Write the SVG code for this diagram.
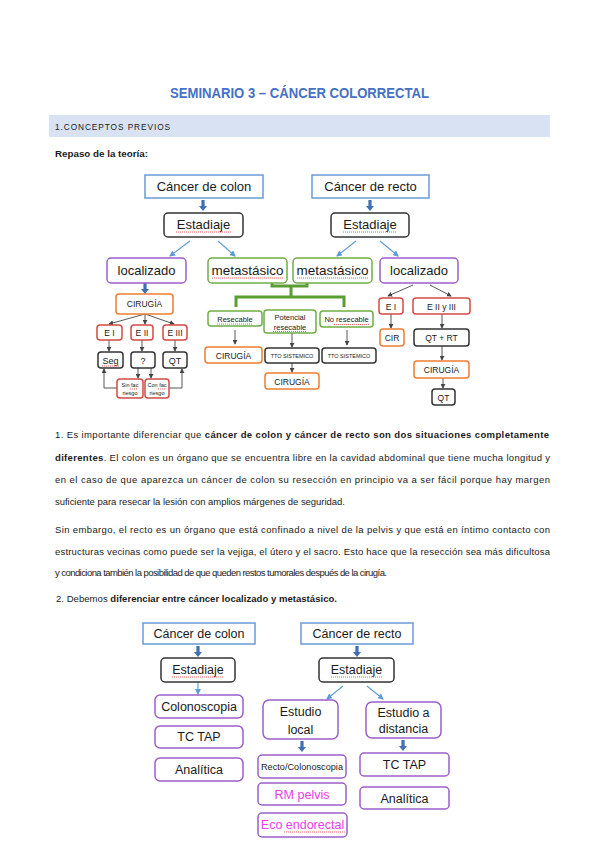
<svg xmlns="http://www.w3.org/2000/svg" width="599" height="848" viewBox="0 0 599 848">
<defs>
<marker id="ak" viewBox="0 0 6 6" refX="5" refY="3" markerWidth="5" markerHeight="5" orient="auto" markerUnits="userSpaceOnUse"><path d="M0,0 L6,3 L0,6 z" fill="#444"/></marker>
<marker id="ab" viewBox="0 0 6 6" refX="5" refY="3" markerWidth="6" markerHeight="6" orient="auto" markerUnits="userSpaceOnUse"><path d="M0,0 L6,3 L0,6 z" fill="#5b9bd5"/></marker>
<path id="thick" d="M-1.6,0 H1.6 V6 H4 L0,11 L-4,6 H-1.6 z" fill="#3f6fb5"/>
<style>
text{font-family:"Liberation Sans",Arial,sans-serif;fill:#1a1a1a}
.c{text-anchor:middle}
.b{fill:#fff;stroke:#6a9bd8;stroke-width:1.5}
.k{fill:#fff;stroke:#333;stroke-width:1.5}
.p{fill:#fff;stroke:#9b5fc9;stroke-width:1.5}
.g{fill:#fff;stroke:#70ad47;stroke-width:1.5}
.o{fill:#fff;stroke:#ed7d31;stroke-width:1.5}
.r{fill:#fff;stroke:#d24b45;stroke-width:1.5}
.t13{font-size:13px}
.t12{font-size:12.5px}
.t9{font-size:9px}
.t8{font-size:8.5px}
.t7{font-size:7.5px}
.t5{font-size:5.5px}
.pk{fill:#e83ee8}
.lk{stroke:#444;stroke-width:0.9;fill:none;marker-end:url(#ak)}
.lb{stroke:#5b9bd5;stroke-width:1.1;fill:none;marker-end:url(#ab)}
.sq{stroke:#e23b3b;stroke-width:0.8;stroke-dasharray:1 1;fill:none}
.body{font-size:9.5px}
.bd{font-weight:bold}
</style>
</defs>
<g id="page-text">
<text x="299.5" y="98" class="c bd" style="font-size:15px;fill:#4472c4" textLength="259" lengthAdjust="spacingAndGlyphs">SEMINARIO 3 – CÁNCER COLORRECTAL</text>
<rect x="49" y="115" width="501" height="22" fill="#d9e2f3"/>
<text x="55" y="130" style="font-size:9px;letter-spacing:1px" textLength="116" lengthAdjust="spacingAndGlyphs">1.CONCEPTOS PREVIOS</text>
<text x="55" y="157" class="bd" style="font-size:9px" textLength="93" lengthAdjust="spacingAndGlyphs">Repaso de la teoría:</text>
<text x="55" y="438" class="body" textLength="494" lengthAdjust="spacing">1. Es importante diferenciar que <tspan class="bd">cáncer de colon y cáncer de recto son dos situaciones completamente</tspan></text>
<text x="55" y="461" class="body" textLength="495" lengthAdjust="spacing"><tspan class="bd">diferentes</tspan>. El colon es un órgano que se encuentra libre en la cavidad abdominal que tiene mucha longitud y</text>
<text x="55" y="483" class="body" textLength="495" lengthAdjust="spacing">en el caso de que aparezca un cáncer de colon su resección en principio va a ser fácil porque hay margen</text>
<text x="55" y="505" class="body" textLength="290" lengthAdjust="spacing">suficiente para resecar la lesión con amplios márgenes de seguridad.</text>
<text x="55" y="533" class="body" textLength="495" lengthAdjust="spacing">Sin embargo, el recto es un órgano que está confinado a nivel de la pelvis y que está en íntimo contacto con</text>
<text x="55" y="555" class="body" textLength="495" lengthAdjust="spacing">estructuras vecinas como puede ser la vejiga, el útero y el sacro. Esto hace que la resección sea más dificultosa</text>
<text x="55" y="576" class="body" textLength="332" lengthAdjust="spacing">y condiciona también la posibilidad de que queden restos tumorales después de la cirugía.</text>
<text x="56" y="602" class="body" textLength="281" lengthAdjust="spacing">2. Debemos <tspan class="bd">diferenciar entre cáncer localizado y metastásico.</tspan></text>
</g>
<g id="connectors">
<use href="#thick" x="203" y="200"/>
<use href="#thick" x="370" y="200"/>
<path class="lb" d="M190,241 L170,256"/>
<path class="lb" d="M218,241 L235,256"/>
<path class="lb" d="M356,241 L337,256"/>
<path class="lb" d="M380,241 L398,256"/>
<path d="M272,283 V286 H307 V283 M291,286 V297 M236,307 V297 H344 V307" stroke="#5a9e32" stroke-width="3" fill="none"/>
<path class="lk" d="M235,330 V344"/>
<path class="lk" d="M292,333 V347"/>
<path class="lk" d="M347,330 V345"/>
<path class="lk" d="M292,363 V372"/>
<use href="#thick" x="145" y="283"/>
<path class="lk" d="M145,314 L109,324"/>
<path class="lk" d="M145,314 V324"/>
<path class="lk" d="M145,314 L174,324"/>
<path class="lk" d="M109,340 V351"/>
<path class="lk" d="M142,340 V351"/>
<path class="lk" d="M175,340 V351"/>
<path class="lk" d="M138,368 V378"/>
<path class="lk" d="M151,368 V378"/>
<path class="lk" d="M117,388 H104 V369"/>
<path class="lk" d="M169,388 H182 V369"/>
<path class="lk" d="M413,285 L388,296"/>
<path class="lk" d="M430,285 L451,296"/>
<path class="lk" d="M391,314 V328"/>
<path class="lk" d="M442,314 V328"/>
<path class="lk" d="M442,346 V360"/>
<path class="lk" d="M443,378 V388"/>
<use href="#thick" x="198" y="646"/>
<path class="lb" d="M198,682 V694"/>
<use href="#thick" x="357" y="646"/>
<path class="lb" d="M343,686 L327,699"/>
<path class="lb" d="M367,686 L383,699"/>
<use href="#thick" x="302" y="741"/>
<use href="#thick" x="403" y="740"/>
</g>
<g id="d1-colon"><rect class="b" x="145" y="175" width="118" height="23"/><text x="204" y="191" class="c t13">Cáncer de colon</text></g>
<g id="d1-recto"><rect class="b" x="312" y="175" width="117" height="23"/><text x="370.5" y="191" class="c t13">Cáncer de recto</text></g>
<g id="d1-est1"><rect class="k" x="164" y="213" width="79" height="24" rx="4"/><text x="203.5" y="229" class="c t13">Estadiaje</text><path class="sq" d="M176,232 H231"/></g>
<g id="d1-est2"><rect class="k" x="331" y="213" width="78" height="24" rx="4"/><text x="370" y="229" class="c t13">Estadiaje</text><path class="sq" d="M343,232 H397"/></g>
<g id="d1-loc1"><rect class="p" x="107" y="258" width="79" height="25" rx="4"/><text x="146.5" y="275" class="c t13">localizado</text></g>
<g id="d1-met1"><rect class="g" x="208" y="258" width="79" height="25" rx="4"/><text x="247.5" y="275" class="c t13" textLength="72" lengthAdjust="spacingAndGlyphs">metastásico</text><path class="sq" d="M212,278 H283"/></g>
<g id="d1-met2"><rect class="g" x="293" y="258" width="79" height="25" rx="4"/><text x="332.5" y="275" class="c t13" textLength="72" lengthAdjust="spacingAndGlyphs">metastásico</text><path class="sq" d="M297,278 H368"/></g>
<g id="d1-loc2"><rect class="p" x="380" y="258" width="78" height="25" rx="4"/><text x="419" y="275" class="c t13">localizado</text></g>
<g id="d1-resec"><rect class="g" x="208" y="311" width="54" height="15" rx="3"/><text x="235" y="321.5" class="c t7">Resecable</text><path class="sq" d="M217,324 H253"/></g>
<g id="d1-pot"><rect class="g" x="264" y="310" width="52" height="23" rx="3"/><text x="290" y="319.5" class="c t7">Potencial</text><text x="290" y="329.5" class="c t7">resecable</text><path class="sq" d="M273,331.5 H307"/></g>
<g id="d1-nores"><rect class="g" x="320" y="311" width="53" height="16" rx="3"/><text x="346.5" y="322" class="c t7">No resecable</text><path class="sq" d="M334,324.5 H370"/></g>
<g id="d1-cir-a"><rect class="o" x="205" y="347" width="57" height="16" rx="3"/><text x="233.5" y="358.5" class="c t8">CIRUGÍA</text></g>
<g id="d1-tto1"><rect class="k" x="265" y="348" width="54" height="15" rx="3"/><text x="292" y="358" class="c t5">TTO SISTEMICO</text></g>
<g id="d1-tto2"><rect class="k" x="322" y="348" width="54" height="15" rx="3"/><text x="349" y="358" class="c t5">TTO SISTEMICO</text></g>
<g id="d1-cir-b"><rect class="o" x="265" y="373" width="54" height="16" rx="3"/><text x="292" y="384.5" class="c t8">CIRUGÍA</text></g>
<g id="d1-cir-l"><rect class="o" x="116" y="294" width="57" height="20" rx="3"/><text x="144.5" y="307" class="c t8">CIRUGÍA</text></g>
<g id="d1-e1"><rect class="r" x="97" y="325" width="25" height="15" rx="3"/><text x="109.5" y="335.5" class="c t8">E I</text></g>
<g id="d1-e2"><rect class="r" x="131" y="325" width="22" height="15" rx="3"/><text x="142" y="335.5" class="c t8">E II</text></g>
<g id="d1-e3"><rect class="r" x="163" y="325" width="24" height="15" rx="3"/><text x="175" y="335.5" class="c t8">E III</text></g>
<g id="d1-seg"><rect class="k" x="98" y="352" width="25" height="16" rx="3"/><text x="110.5" y="363.5" class="c t9">Seg</text><path class="sq" d="M102,366 H119"/></g>
<g id="d1-q"><rect class="k" x="131" y="352" width="24" height="16" rx="3"/><text x="143" y="363.5" class="c t9">?</text></g>
<g id="d1-qt"><rect class="k" x="163" y="352" width="24" height="16" rx="3"/><text x="175" y="363.5" class="c t9">QT</text></g>
<g id="d1-sin"><rect class="r" x="117" y="379" width="26" height="19" rx="3"/><text x="130" y="387" class="c t5">Sin fac</text><text x="130" y="394.5" class="c t5">riesgo</text><path class="sq" d="M130,389 H138"/></g>
<g id="d1-con"><rect class="r" x="145" y="379" width="24" height="19" rx="3"/><text x="157" y="387" class="c t5">Con fac</text><text x="157" y="394.5" class="c t5">riesgo</text><path class="sq" d="M158,389 H166"/></g>
<g id="d1-re1"><rect class="r" x="379" y="298" width="24" height="16" rx="3"/><text x="391" y="309.5" class="c t8">E I</text></g>
<g id="d1-re23"><rect class="r" x="413" y="298" width="57" height="16" rx="3"/><text x="441.5" y="309.5" class="c t8">E II y III</text></g>
<g id="d1-cir-r"><rect class="o" x="380" y="329" width="24" height="17" rx="3"/><text x="392" y="340.5" class="c t8">CIR</text></g>
<g id="d1-qtrt"><rect class="k" x="414" y="329" width="55" height="17" rx="3"/><text x="441.5" y="340.5" class="c t8">QT + RT</text></g>
<g id="d1-cir-r2"><rect class="o" x="414" y="361" width="55" height="17" rx="3"/><text x="441.5" y="372.5" class="c t8">CIRUGÍA</text></g>
<g id="d1-qt-r"><rect class="k" x="432" y="389" width="23" height="16" rx="3"/><text x="443.5" y="400.5" class="c t8">QT</text></g>
<g id="d2-colon"><rect class="b" x="143" y="623" width="112" height="21"/><text x="199" y="638" class="c t12">Cáncer de colon</text></g>
<g id="d2-est1"><rect class="k" x="161" y="658" width="74" height="24" rx="4"/><text x="198" y="674" class="c t12">Estadiaje</text><path class="sq" d="M172,677 H224"/></g>
<g id="d2-colono"><rect class="p" x="155" y="695" width="88" height="23" rx="5"/><text x="199" y="711" class="c t12">Colonoscopia</text></g>
<g id="d2-tctap1"><rect class="p" x="155" y="726" width="88" height="22" rx="5"/><text x="199" y="741" class="c t12">TC TAP</text></g>
<g id="d2-anal1"><rect class="p" x="155" y="758" width="88" height="23" rx="5"/><text x="199" y="774" class="c t12">Analítica</text></g>
<g id="d2-recto"><rect class="b" x="301" y="623" width="112" height="21"/><text x="357" y="638" class="c t12">Cáncer de recto</text></g>
<g id="d2-est2"><rect class="k" x="319" y="658" width="75" height="24" rx="4"/><text x="356.5" y="674" class="c t12">Estadiaje</text><path class="sq" d="M331,677 H382"/></g>
<g id="d2-local"><rect class="p" x="263" y="700" width="75" height="39" rx="6"/><text x="300.5" y="716" class="c t12">Estudio</text><text x="300.5" y="734" class="c t12">local</text></g>
<g id="d2-dist"><rect class="p" x="366" y="702" width="75" height="36" rx="6"/><text x="403.5" y="717" class="c t12">Estudio a</text><text x="403.5" y="733" class="c t12">distancia</text></g>
<g id="d2-rc"><rect class="p" x="258" y="755" width="88" height="23" rx="4"/><text x="302" y="770" class="c t8" textLength="82" lengthAdjust="spacingAndGlyphs">Recto/Colonoscopia</text></g>
<g id="d2-tctap2"><rect class="p" x="360" y="753" width="89" height="23" rx="4"/><text x="404.5" y="769" class="c t12">TC TAP</text></g>
<g id="d2-rm"><rect class="p" x="258" y="783" width="88" height="22" rx="4"/><text x="302" y="799" class="c t12 pk">RM pelvis</text></g>
<g id="d2-anal2"><rect class="p" x="360" y="787" width="89" height="22" rx="4"/><text x="404.5" y="803" class="c t12">Analítica</text></g>
<g id="d2-eco"><rect class="p" x="258" y="813" width="89" height="24" rx="4"/><text x="302.5" y="829" class="c t12 pk">Eco endorectal</text><path class="sq" d="M284,832 H345"/></g>
</svg>
